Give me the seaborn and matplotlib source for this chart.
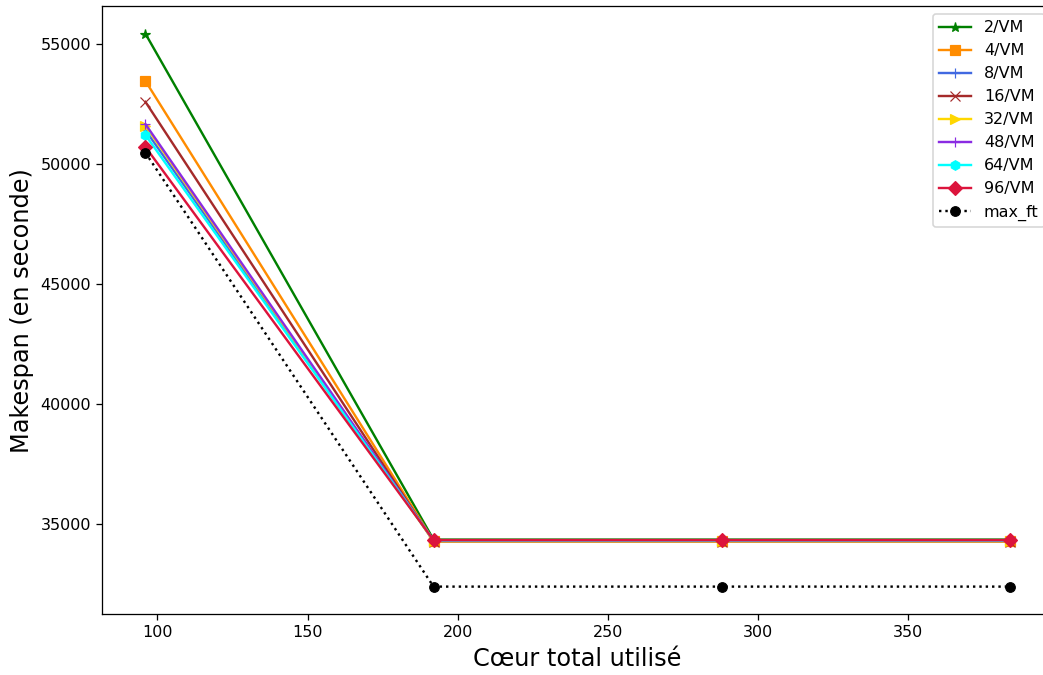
import matplotlib
matplotlib.use("Agg")
import matplotlib.pyplot as plt
import seaborn as sns
import pandas as pd

cores = [96, 192, 288, 384]

vm_2 = [55420, 34330, 34330, 34330]
vm_4 = [53450, 34280, 34280, 34280]
vm_8 = [51400, 34300, 34300, 34300]
vm_16 = [52580, 34250, 34250, 34250]
vm_32 = [51580, 34260, 34260, 34260]
vm_48 = [51650, 34290, 34290, 34290]
vm_64 = [51200, 34300, 34300, 34300]
vm_96 = [50700, 34310, 34310, 34310]
max_ft = [50460, 32370, 32370, 32370]

series = [
    ("2/VM", vm_2, "green", "*", "-"),
    ("4/VM", vm_4, "darkorange", "s", "-"),
    ("8/VM", vm_8, "royalblue", "+", "-"),
    ("16/VM", vm_16, "brown", "x", "-"),
    ("32/VM", vm_32, "gold", ">", "-"),
    ("48/VM", vm_48, "blueviolet", "+", "-"),
    ("64/VM", vm_64, "cyan", "h", "-"),
    ("96/VM", vm_96, "crimson", "D", "-"),
    ("max_ft", max_ft, "black", "o", ":"),
]


def main():
    dpi = 115
    fig, ax = plt.subplots(figsize=(1043 / dpi, 675 / dpi), dpi=dpi)
    for label, vals, color, marker, ls in series:
        df = pd.DataFrame({"cores": cores, "makespan": vals})
        sns.lineplot(data=df, x="cores", y="makespan", ax=ax, color=color,
                     marker=marker, linestyle=ls, label=label,
                     markeredgecolor=color, linewidth=1.5)
    ax.set_xlabel("Cœur total utilisé", fontsize=15)
    ax.set_ylabel("Makespan (en seconde)", fontsize=15)
    ax.set_yticks([35000, 40000, 45000, 50000, 55000])
    ax.legend(loc="upper right")
    # the reference is cropped on the right, so the axes run past the edge
    fig.subplots_adjust(left=0.098, right=1.0096, top=0.991, bottom=0.09)
    fig.savefig("out.png", dpi=dpi)


if __name__ == "__main__":
    main()
